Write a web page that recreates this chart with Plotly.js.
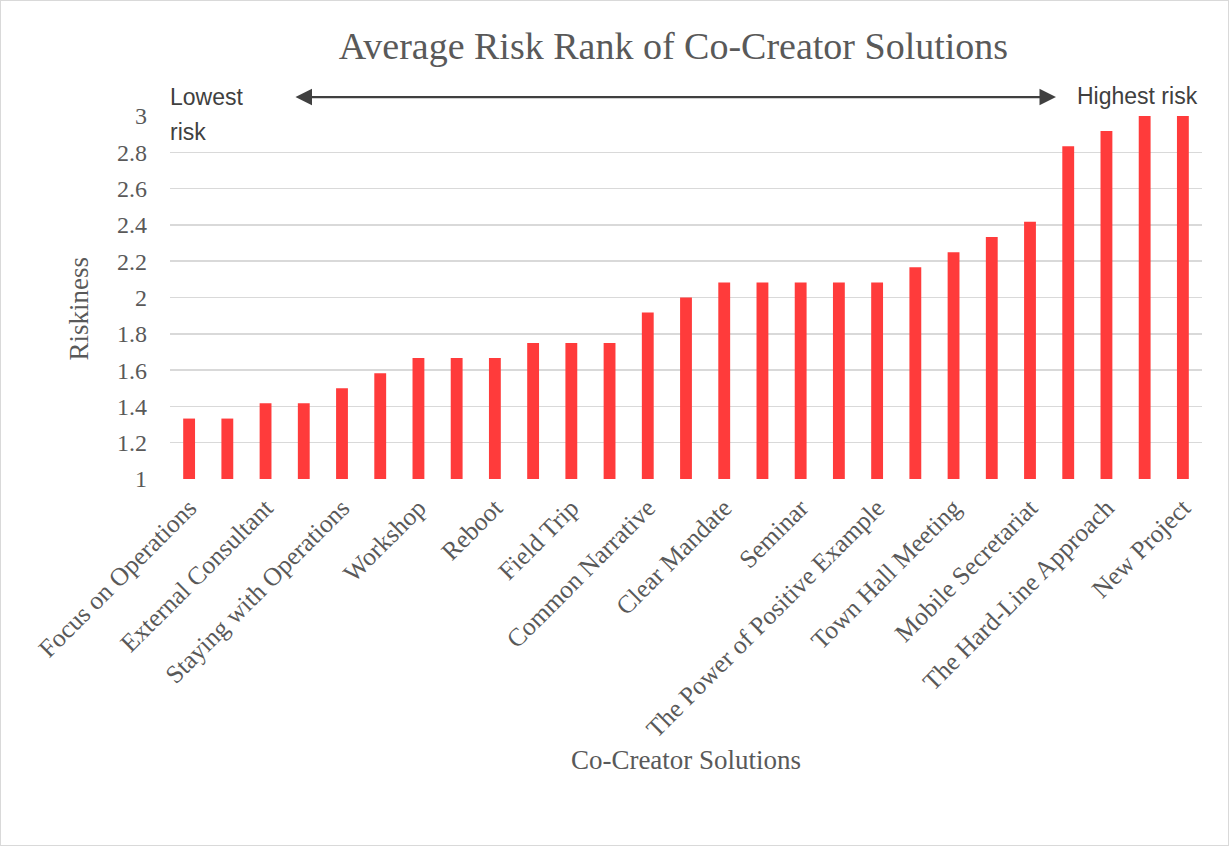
<!DOCTYPE html>
<html>
<head>
<meta charset="utf-8">
<script src="https://cdn.plot.ly/plotly-3.0.1.min.js"></script>
<style>
  html, body { margin: 0; padding: 0; background: #fff; }
  #chart { width: 1227px; height: 844px; border: 1px solid #D9D9D9; }
</style>
</head>
<body>
<div id="chart"></div>
<script>
// Bar positions (one per solution, left to right)
const positions = [0,1,2,3,4,5,6,7,8,9,10,11,12,13,14,15,16,17,18,19,20,21,22,23,24,25,26];
// Average risk rank per solution
const riskValues = [1.333, 1.333, 1.417, 1.417, 1.5, 1.583, 1.667, 1.667, 1.667, 1.75, 1.75, 1.75,
                    1.917, 2.0, 2.083, 2.083, 2.083, 2.083, 2.083, 2.167, 2.25, 2.333, 2.417,
                    2.833, 2.917, 3.0, 3.0];
// Labels shown on the x axis (every other bar is labelled)
const labelPositions = [0, 2, 4, 6, 8, 10, 12, 14, 16, 18, 20, 22, 24, 26];
const tickLabels = ["Focus on Operations", "External Consultant", "Staying with Operations",
                    "Workshop", "Reboot", "Field Trip", "Common Narrative", "Clear Mandate",
                    "Seminar", "The Power of Positive Example", "Town Hall Meeting",
                    "Mobile Secretariat", "The Hard-Line Approach", "New Project"];
const yTicks = [1, 1.2, 1.4, 1.6, 1.8, 2, 2.2, 2.4, 2.6, 2.8, 3];
const yTickText = ["1", "1.2", "1.4", "1.6", "1.8", "2", "2.2", "2.4", "2.6", "2.8", "3"];
const axisMin = 1;

const serif = "Liberation Serif, Times New Roman, serif";
const sans = "Liberation Sans, Arial, sans-serif";

const trace = {
  type: "bar",
  x: positions,
  y: riskValues.map(v => v - axisMin),
  base: axisMin,
  marker: { color: "#FF3B3B", line: { width: 0 } },
  hoverinfo: "x+y"
};

const layout = {
  width: 1227,
  height: 844,
  paper_bgcolor: "#ffffff",
  plot_bgcolor: "#ffffff",
  margin: { l: 169, r: 26, t: 115, b: 366, pad: 0 },
  bargap: 0.69,
  showlegend: false,
  title: {
    text: "Average Risk Rank of Co-Creator Solutions",
    font: { family: serif, size: 38, color: "#595959" },
    x: 0.548, xref: "container", xanchor: "center",
    y: 0.947, yref: "container", yanchor: "middle"
  },
  xaxis: {
    range: [-0.5, 26.5],
    tickmode: "array",
    tickvals: labelPositions,
    ticktext: tickLabels,
    tickangle: -45,
    tickfont: { family: serif, size: 25.5, color: "#595959" },
    showgrid: false,
    zeroline: false,
    showline: false,
    ticks: "",
    ticklabelstandoff: 8,
    automargin: false,
    title: {
      text: "Co-Creator Solutions",
      font: { family: serif, size: 27, color: "#595959" },
      standoff: 7
    }
  },
  yaxis: {
    range: [1, 3],
    tickmode: "array",
    tickvals: yTicks,
    ticktext: yTickText,
    tickfont: { family: serif, size: 24, color: "#595959" },
    showgrid: true,
    gridcolor: "#D9D9D9",
    gridwidth: 1.5,
    zeroline: false,
    showline: false,
    ticks: "",
    ticklabelstandoff: 22,
    automargin: false
  },
  annotations: [
    {
      xref: "paper", yref: "paper", x: -0.088, y: 0.47, xanchor: "center", yanchor: "middle",
      text: "Riskiness", textangle: -90, showarrow: false,
      font: { family: serif, size: 27, color: "#595959" }
    },
    {
      xref: "paper", yref: "paper", axref: "pixel", ayref: "pixel",
      x: 0.8585, y: 1.052, ax: -762, ay: 0,
      showarrow: true, arrowside: "end+start",
      arrowhead: 2, arrowsize: 1.5, arrowwidth: 2.2, arrowcolor: "#404040",
      text: ""
    },
    {
      xref: "paper", yref: "paper", x: -0.0015, y: 1.052, xanchor: "left", yanchor: "middle",
      text: "Lowest", showarrow: false,
      font: { family: sans, size: 23, color: "#404040" }
    },
    {
      xref: "paper", yref: "paper", x: -0.0015, y: 0.955, xanchor: "left", yanchor: "middle",
      text: "risk", showarrow: false,
      font: { family: sans, size: 23, color: "#404040" }
    },
    {
      xref: "paper", yref: "paper", x: 0.9985, y: 1.055, xanchor: "right", yanchor: "middle",
      text: "Highest risk", showarrow: false,
      font: { family: sans, size: 23, color: "#404040" }
    }
  ]
};

Plotly.newPlot("chart", [trace], layout, { displayModeBar: false, staticPlot: true });
</script>
</body>
</html>
